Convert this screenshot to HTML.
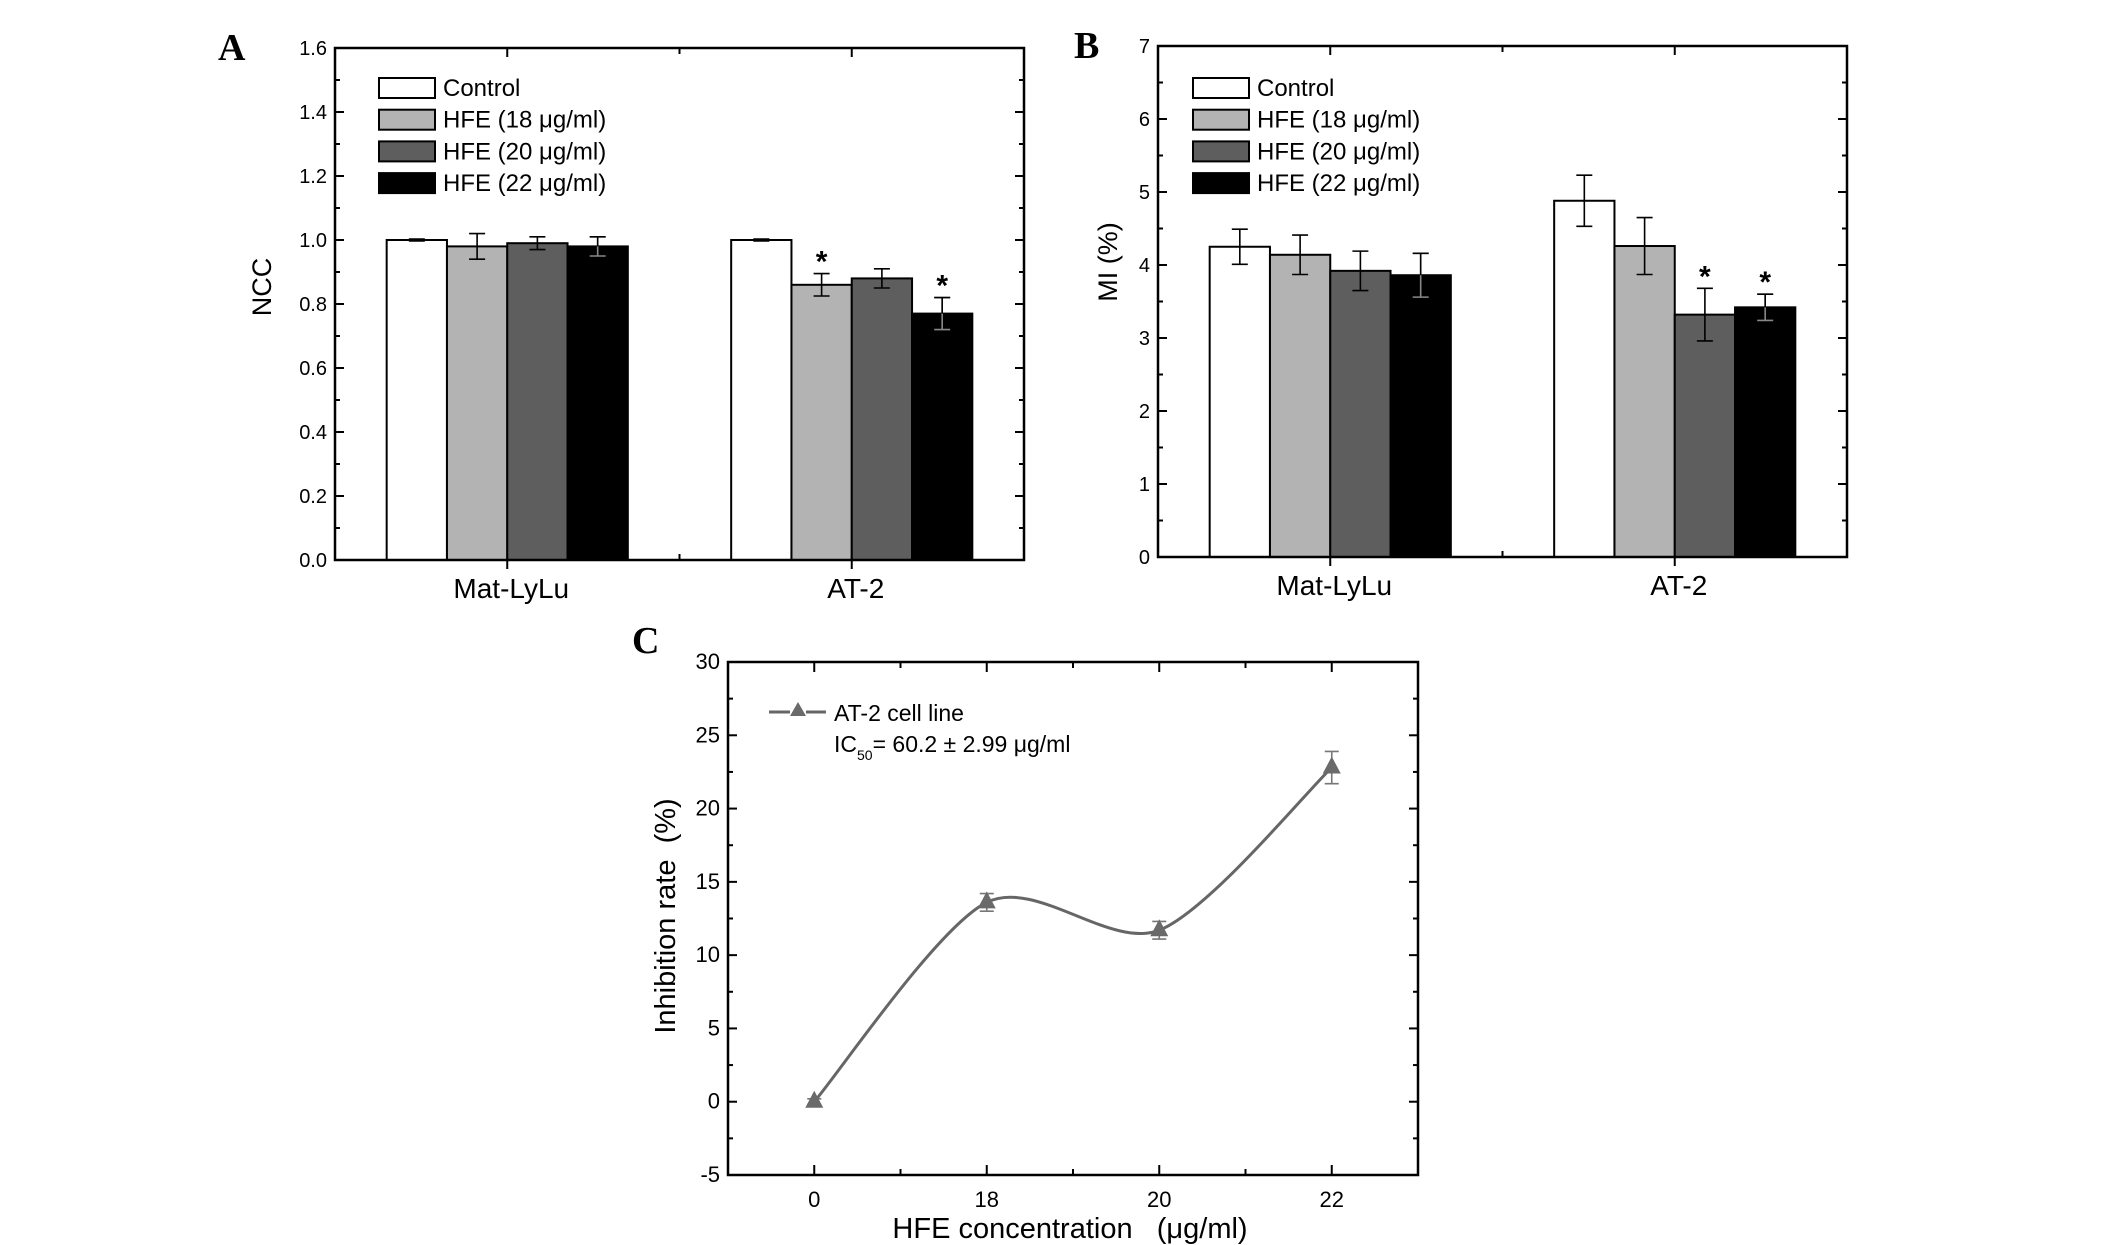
<!DOCTYPE html>
<html><head><meta charset="utf-8">
<style>
html,body{margin:0;padding:0;background:#fff;}
svg{display:block;font-family:"Liberation Sans",Arial,sans-serif;}
</style></head>
<body>
<svg id="fig" width="2126" height="1245" viewBox="0 0 2126 1245"></svg>
<script>
// ---- data ----
const groups = ["Mat-LyLu", "AT-2"];
const seriesNames = ["Control", "HFE (18 \u03bcg/ml)", "HFE (20 \u03bcg/ml)", "HFE (22 \u03bcg/ml)"];
const seriesColors = ["#ffffff", "#b3b3b3", "#5e5e5e", "#000000"];
const nccValues = [[1.0, 1.0], [0.98, 0.86], [0.99, 0.88], [0.98, 0.77]];
const nccErrors = [[0.003, 0.003], [0.04, 0.035], [0.02, 0.03], [0.03, 0.05]];
const nccStars = [[false, false], [false, true], [false, false], [false, true]];
const nccTicks = ["0.0", "0.2", "0.4", "0.6", "0.8", "1.0", "1.2", "1.4", "1.6"];
const miValues = [[4.25, 4.88], [4.14, 4.26], [3.92, 3.32], [3.86, 3.42]];
const miErrors = [[0.24, 0.35], [0.27, 0.39], [0.27, 0.36], [0.30, 0.18]];
const miStars = [[false, false], [false, false], [false, true], [false, true]];
const miTicks = ["0", "1", "2", "3", "4", "5", "6", "7"];
const concLabels = ["0", "18", "20", "22"];
const inhibValues = [0, 13.6, 11.7, 22.8];
const inhibErrors = [0.2, 0.6, 0.6, 1.1];
const inhibTicks = ["-5", "0", "5", "10", "15", "20", "25", "30"];

const NS = "http://www.w3.org/2000/svg";
const svg = document.getElementById("fig");
function mk(tag, attrs, parent) {
  const e = document.createElementNS(NS, tag);
  for (const k in attrs) e.setAttribute(k, attrs[k]);
  (parent || svg).appendChild(e);
  return e;
}
function txt(s, attrs, parent) { const t = mk("text", attrs, parent); t.textContent = s; return t; }

function frame(g, L, R, T, B) {
  const f = mk("rect", {x: L, y: T, width: R - L, height: B - T, fill: "none", stroke: "#000", "stroke-width": 2.5}, g);
  
  
}
function yAxis(g, L, R, yScale, ticks, minorPer, fs) {
  const vals = ticks.map(Number);
  for (let i = 0; i < vals.length; i++) {
    const y = yScale(vals[i]);
    mk("line", {x1: L, x2: L + 9, y1: y, y2: y, stroke: "#000", "stroke-width": 2}, g);
    mk("line", {x1: R, x2: R - 9, y1: y, y2: y, stroke: "#000", "stroke-width": 2}, g);
    const t = txt(ticks[i], {x: L - 8, y: y + 7, "text-anchor": "end", "font-size": fs}, g);
    
    
    if (i < vals.length - 1) {
      for (let m = 1; m < minorPer; m++) {
        const ym = yScale(vals[i] + (vals[i + 1] - vals[i]) * m / minorPer);
        mk("line", {x1: L, x2: L + 5, y1: ym, y2: ym, stroke: "#000", "stroke-width": 2}, g);
        mk("line", {x1: R, x2: R - 5, y1: ym, y2: ym, stroke: "#000", "stroke-width": 2}, g);
      }
    }
  }
}

function barPanel(opt) {
  const g = mk("g", {});
  
  
  const {L, R, T, B, ymax} = opt;
  const y = v => B - v / ymax * (B - T);
  const xc = i => L + (R - L) * (0.25 + 0.5 * i);
  const bw = (R - L) * 0.0875;
  for (let s = 0; s < opt.values.length; s++) {
    for (let gi = 0; gi < groups.length; gi++) {
      const v = opt.values[s][gi];
      const x0 = xc(gi) - 2 * bw + s * bw;
      const r = mk("rect", {x: x0, y: y(v), width: bw, height: B - y(v), fill: seriesColors[s], stroke: "#000", "stroke-width": 2}, g);
      
      
      const e = opt.errors[s][gi], cx = x0 + bw / 2;
      const eb = mk("path", {d: `M${cx} ${y(v + e)}V${y(v - e)}M${cx - 8} ${y(v + e)}H${cx + 8}M${cx - 8} ${y(v - e)}H${cx + 8}`, stroke: s === 3 ? "#888" : "#000", "stroke-width": 1.6, fill: "none"}, g);
      
      
      if (s === 3) mk("path", {d: `M${cx} ${y(v + e)}V${y(v)}M${cx - 8} ${y(v + e)}H${cx + 8}`, stroke: "#000", "stroke-width": 1.6}, g);
      if (opt.stars[s][gi]) {
        const st = txt("*", {x: cx, y: y(v + e) - 2, "text-anchor": "middle", "font-size": 30, "font-weight": "bold"}, g);
        
        
      }
    }
  }
  frame(g, L, R, T, B);
  yAxis(g, L, R, y, opt.ticks, 2, 20);
  [0, 1].forEach(i => {
    mk("line", {x1: xc(i), x2: xc(i), y1: B, y2: B + 9, stroke: "#000", "stroke-width": 2}, g);
    mk("line", {x1: xc(i), x2: xc(i), y1: T, y2: T + 9, stroke: "#000", "stroke-width": 2}, g);
    const t = txt(groups[i], {x: xc(i) + 4, y: B + 38, "text-anchor": "middle", "font-size": 28}, g);
    
    
  });
  const xm = (L + R) / 2;
  mk("line", {x1: xm, x2: xm, y1: B, y2: B - 6, stroke: "#000", "stroke-width": 2}, g);
  mk("line", {x1: xm, x2: xm, y1: T, y2: T + 6, stroke: "#000", "stroke-width": 2}, g);
  const yt = txt(opt.ytitle, {x: 0, y: 0, "text-anchor": "middle", "font-size": 27, transform: `translate(${opt.ytx},${opt.yty}) rotate(-90)`}, g);
  
  
  const pl = txt(opt.label, {x: opt.lx, y: opt.ly, "font-family": "Liberation Serif, serif", "font-weight": "bold", "font-size": 38}, g);
  
  
  for (let s = 0; s < 4; s++) {
    const cy = 88 + s * 31.7;
    const lg = mk("g", {}, g);
    
    
    mk("rect", {x: opt.legX, y: cy - 10, width: 56, height: 20, fill: seriesColors[s], stroke: "#000", "stroke-width": 2}, lg);
    txt(seriesNames[s], {x: opt.legX + 64, y: cy + 8, "font-size": 24}, lg);
  }
}

barPanel({name: "panel-a-ncc-chart", L: 335, R: 1024, T: 48, B: 560, ymax: 1.6, values: nccValues, errors: nccErrors, stars: nccStars, ticks: nccTicks, ytitle: "NCC", ytx: 271, yty: 287, label: "A", lx: 218, ly: 60, legX: 379});
barPanel({name: "panel-b-mi-chart", L: 1158, R: 1847, T: 46, B: 557, ymax: 7, values: miValues, errors: miErrors, stars: miStars, ticks: miTicks, ytitle: "MI (%)", ytx: 1117, yty: 262, label: "B", lx: 1074, ly: 58, legX: 1193});

// ---- panel C ----
(function () {
  const g = mk("g", {});
  
  
  const L = 728, R = 1418, T = 662, B = 1175, ymin = -5, ymax = 30;
  const y = v => B - (v - ymin) / (ymax - ymin) * (B - T);
  const x = i => L + (R - L) * (i + 0.5) / 4;
  frame(g, L, R, T, B);
  yAxis(g, L, R, y, inhibTicks, 2, 22);
  for (let i = 0; i < concLabels.length; i++) {
    mk("line", {x1: x(i), x2: x(i), y1: B, y2: B - 10, stroke: "#000", "stroke-width": 2}, g);
    mk("line", {x1: x(i), x2: x(i), y1: T, y2: T + 10, stroke: "#000", "stroke-width": 2}, g);
    if (i < concLabels.length - 1) {
      const xm = (x(i) + x(i + 1)) / 2;
      mk("line", {x1: xm, x2: xm, y1: B, y2: B - 6, stroke: "#000", "stroke-width": 2}, g);
      mk("line", {x1: xm, x2: xm, y1: T, y2: T + 6, stroke: "#000", "stroke-width": 2}, g);
    }
    const t = txt(concLabels[i], {x: x(i), y: B + 32, "text-anchor": "middle", "font-size": 22}, g);
    
    
  }
  const P = inhibValues.map((v, i) => [x(i), y(v)]);
  let d = `M${P[0][0]} ${P[0][1]}`;
  const k = 7;
  for (let i = 0; i < P.length - 1; i++) {
    const p0 = P[Math.max(0, i - 1)], p1 = P[i], p2 = P[i + 1], p3 = P[Math.min(P.length - 1, i + 2)];
    const c1 = [p1[0] + (p2[0] - p0[0]) / k, p1[1] + (p2[1] - p0[1]) / k];
    const c2 = [p2[0] - (p3[0] - p1[0]) / k, p2[1] - (p3[1] - p1[1]) / k];
    d += `C${c1[0]} ${c1[1]} ${c2[0]} ${c2[1]} ${p2[0]} ${p2[1]}`;
  }
  const line = mk("path", {d: d, fill: "none", stroke: "#666", "stroke-width": 3}, g);
  
  
  for (let i = 0; i < P.length; i++) {
    const [px, py] = P[i], e = inhibErrors[i];
    const eb = mk("path", {d: `M${px} ${y(inhibValues[i] + e)}V${y(inhibValues[i] - e)}M${px - 7} ${y(inhibValues[i] + e)}H${px + 7}M${px - 7} ${y(inhibValues[i] - e)}H${px + 7}`, stroke: "#777", "stroke-width": 1.6, fill: "none"}, g);
    
    
    const m = mk("path", {d: `M${px} ${py - 11}L${px + 9} ${py + 6}L${px - 9} ${py + 6}Z`, fill: "#6a6a6a"}, g);
    
    
  }
  const yt = txt("Inhibition rate\u00a0\u00a0(%)", {x: 0, y: 0, "text-anchor": "middle", "font-size": 29, transform: `translate(675,916) rotate(-90)`}, g);
  
  
  const xt = txt("HFE concentration\u00a0\u00a0\u00a0(\u03bcg/ml)", {x: 1070, y: 1238, "text-anchor": "middle", "font-size": 29}, g);
  
  
  const pl = txt("C", {x: 632, y: 653, "font-family": "Liberation Serif, serif", "font-weight": "bold", "font-size": 38}, g);
  
  
  const lg = mk("g", {}, g);
  
  
  mk("path", {d: "M769 712H790M806 712H826", stroke: "#666", "stroke-width": 3}, lg);
  mk("path", {d: "M798 702L806 716L790 716Z", fill: "#6a6a6a"}, lg);
  txt("AT-2 cell line", {x: 834, y: 721, "font-size": 23}, lg);
  const ic = txt("", {x: 834, y: 752, "font-size": 23}, lg);
  const t1 = document.createElementNS(NS, "tspan"); t1.textContent = "IC"; ic.appendChild(t1);
  const t2 = document.createElementNS(NS, "tspan"); t2.setAttribute("font-size", "14"); t2.setAttribute("dy", "8"); t2.textContent = "50"; ic.appendChild(t2);
  const t3 = document.createElementNS(NS, "tspan"); t3.setAttribute("dy", "-8"); t3.textContent = "= 60.2 \u00b1 2.99 \u03bcg/ml"; ic.appendChild(t3);
})();
</script>
</body></html>
